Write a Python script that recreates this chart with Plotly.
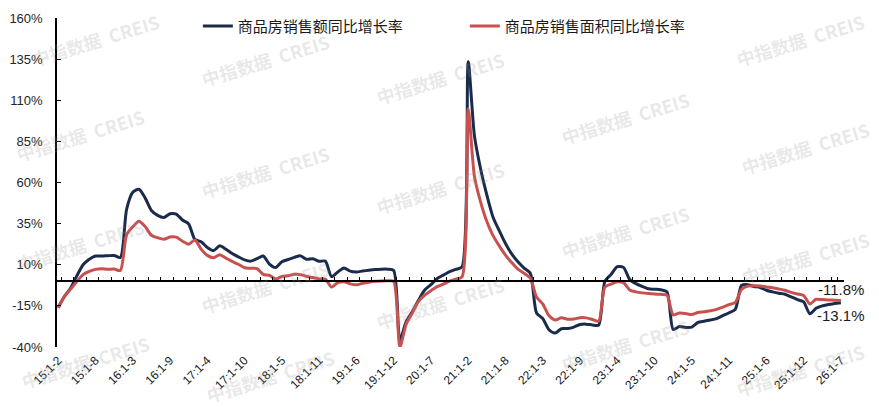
import plotly.graph_objects as go

# categories: cumulative periods "yy:1-m" (Jan-Feb ... Jan-Dec each year, 2026 up to Jan-Jul)
periods = [f"{y}:1-{m}" for y in range(15, 26) for m in range(2, 13)] + \
          [f"26:1-{m}" for m in range(2, 8)]

# 商品房销售额同比增长率 (%)
sales_amount_yoy = [
    -15.8, -9.3, -4.1, 3.3, 10.0, 13.4, 15.3, 15.3, 15.5, 15.6, 14.4,      # 2015
    43.6, 54.1, 55.9, 50.5, 43.0, 40.0, 38.7, 41.0, 40.8, 37.2, 34.8,      # 2016
    25.4, 24.0, 20.5, 18.6, 21.5, 19.4, 16.8, 14.8, 13.0, 12.2, 13.7,      # 2017
    15.3, 10.4, 8.3, 11.8, 13.2, 14.5, 15.4, 13.3, 13.6, 12.1, 12.2,       # 2018
    2.8, 5.6, 8.1, 6.1, 5.6, 6.2, 6.7, 7.1, 7.3, 7.3, 6.5,                 # 2019
    -35.9, -24.7, -18.6, -11.6, -5.4, -2.1, 1.6, 3.7, 5.8, 7.2, 8.7,       # 2020
    133.4, 88.5, 68.2, 52.4, 38.9, 30.7, 22.9, 16.6, 11.8, 8.0, 4.8,       # 2021
    -19.3, -22.7, -29.5, -31.5, -28.9, -28.8, -27.9, -26.3, -26.1, -26.6, -26.7,  # 2022
    -0.1, 4.1, 8.8, 8.4, 1.1, -1.5, -3.2, -4.6, -4.9, -5.2, -6.5,          # 2023
    -29.3, -27.6, -28.1, -27.9, -25.0, -24.3, -23.6, -22.7, -20.9, -19.2, -17.1,  # 2024
    -2.6, -2.1, -3.2, -3.8, -5.5, -6.5, -7.3, -7.9, -9.6, -11.2, -12.6,    # 2025
    -19.8, -16.5, -15.0, -14.2, -13.5, -13.1,                              # 2026
]

# 商品房销售面积同比增长率 (%)
sales_area_yoy = [
    -16.3, -9.2, -4.8, -0.2, 4.0, 5.9, 7.2, 7.5, 7.2, 7.4, 6.5,
    28.2, 33.1, 36.5, 33.2, 27.9, 26.4, 25.5, 26.9, 26.8, 24.3, 22.5,
    25.1, 19.5, 15.7, 14.3, 16.1, 14.0, 12.0, 10.3, 8.2, 7.9, 7.7,
    4.1, 3.6, 1.3, 2.9, 3.3, 4.2, 4.0, 2.9, 2.2, 1.4, 1.3,
    -3.6, -0.9, -0.3, -1.6, -2.2, -1.3, -0.6, -0.1, 0.1, 0.2, -0.1,
    -39.9, -26.3, -19.3, -12.3, -8.4, -5.8, -3.3, -1.8, 0.0, 1.3, 2.6,
    104.9, 63.8, 48.1, 36.3, 27.7, 21.5, 15.9, 11.3, 7.3, 4.8, 1.9,
    -9.6, -13.8, -20.9, -23.6, -22.2, -23.1, -23.0, -22.2, -22.3, -23.3, -24.3,
    -3.6, -1.8, -0.4, -0.9, -5.3, -6.5, -7.1, -7.5, -7.8, -8.0, -8.5,
    -20.5, -19.4, -19.7, -20.3, -19.0, -18.6, -18.0, -17.1, -15.8, -14.3, -12.9,
    -5.1, -3.0, -2.8, -2.9, -3.5, -4.0, -4.7, -5.5, -6.8, -7.8, -8.7,
    -13.8, -11.0, -11.2, -11.4, -11.6, -11.8,
]

series_names = ["商品房销售额同比增长率", "商品房销售面积同比增长率"]
y_ticks = [-40, -15, 10, 35, 60, 85, 110, 135, 160]

NAVY = "#1a2b4c"
RED = "#c8504e"
FONT = "Liberation Sans, Arial, sans-serif"
CJK = "Noto Sans CJK SC"

fig = go.Figure()
fig.add_trace(go.Scatter(x=periods, y=sales_amount_yoy, name=series_names[0], mode="lines",
                         line=dict(color=NAVY, width=3, shape="spline", smoothing=0.7)))
fig.add_trace(go.Scatter(x=periods, y=sales_area_yoy, name=series_names[1], mode="lines",
                         line=dict(color=RED, width=3, shape="spline", smoothing=0.7)))
# invisible copy so the zero-crossing axis (x2) gets drawn
fig.add_trace(go.Scatter(x=periods, y=sales_area_yoy, xaxis="x2", mode="lines",
                         line=dict(width=0), opacity=0, hoverinfo="skip", showlegend=False))

# end-value labels
fig.add_annotation(x=periods[-1], y=sales_area_yoy[-1], text=f"{sales_area_yoy[-1]:.1f}%",
                   showarrow=False, yshift=11, xanchor="center",
                   font=dict(family=FONT, size=15, color="#1a1a1a"))
fig.add_annotation(x=periods[-1], y=sales_amount_yoy[-1], text=f"{sales_amount_yoy[-1]:.1f}%",
                   showarrow=False, yshift=-13, xanchor="center",
                   font=dict(family=FONT, size=15, color="#1a1a1a"))

# watermark (screen positions, converted to the plot-area fractions)
wm_pos = [(95, 40), (80, 135), (80, 245), (85, 362),
          (265, 60), (265, 172), (265, 287), (270, 376),
          (440, 78), (440, 188), (440, 303),
          (625, 118), (625, 232), (625, 345),
          (800, 40), (805, 148), (805, 258), (800, 370)]
for px, py in wm_pos:
    fig.add_annotation(x=(px - 57) / 787, y=(347 - py) / 329, xref="paper", yref="paper",
                       xanchor="center", yanchor="middle",
                       text="<b>中指数据  CREIS</b>", showarrow=False, textangle=-17,
                       font=dict(family=CJK, size=18, color="rgba(150,150,150,0.22)"))

# page body has an 8px margin, so the figure is drawn a bit smaller
fig.update_layout(
    width=871, height=399,
    margin=dict(l=49, r=35, t=10, b=60, autoexpand=False),
    paper_bgcolor="white", plot_bgcolor="white",
    font=dict(family=FONT, size=13, color="#262626"),
    legend=dict(orientation="h", x=0.179, y=1.025, xanchor="left", yanchor="top",
                font=dict(family=CJK, size=15, color="#1a1a1a"),
                entrywidth=222, entrywidthmode="pixels", itemwidth=30,
                bgcolor="rgba(0,0,0,0)"),
    xaxis=dict(type="category", categoryorder="array", categoryarray=periods,
               range=[-0.2, 126.5], tickmode="array", tickvals=periods[::6],
               tickangle=-45, ticks="", showline=False, showgrid=False, zeroline=False,
               tickfont=dict(family=FONT, size=12, color="#1a1a1a"), ticklabelstandoff=3),
    xaxis2=dict(type="category", categoryorder="array", categoryarray=periods,
                overlaying="x", anchor="free", position=0.2, side="bottom",
                range=[-0.2, 126.5], tickmode="array", tickvals=periods[1::2],
                tickson="boundaries", ticks="inside", ticklen=3, tickwidth=1, tickcolor="black",
                showline=True, linecolor="black", linewidth=1.5,
                showticklabels=False, showgrid=False, zeroline=False),
    yaxis=dict(range=[-40, 160], tickmode="array", tickvals=y_ticks,
               ticktext=[f"{v}%" for v in y_ticks], ticks="inside", ticklen=4,
               tickcolor="black", tickwidth=1.2, showline=True, linecolor="black",
               linewidth=1.5, showgrid=False, zeroline=False, ticklabelstandoff=10,
               tickfont=dict(family=FONT, size=13, color="#262626")),
)

fig.write_html("out.html")
